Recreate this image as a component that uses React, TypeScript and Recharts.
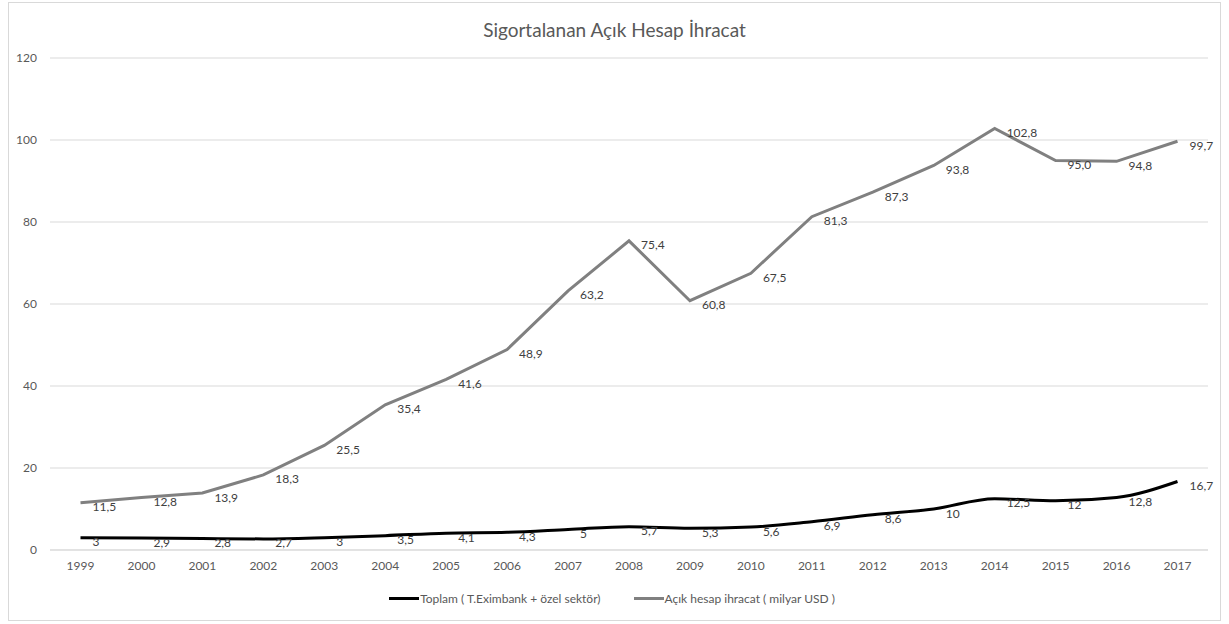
import { LineChart, Line, XAxis, YAxis, CartesianGrid, Legend, LabelList } from "recharts";

const years = [
  "1999", "2000", "2001", "2002", "2003", "2004", "2005", "2006", "2007", "2008",
  "2009", "2010", "2011", "2012", "2013", "2014", "2015", "2016", "2017",
];
const toplam = [3, 2.9, 2.8, 2.7, 3, 3.5, 4.1, 4.3, 5, 5.7, 5.3, 5.6, 6.9, 8.6, 10, 12.5, 12, 12.8, 16.7];
const acikHesap = [
  11.5, 12.8, 13.9, 18.3, 25.5, 35.4, 41.6, 48.9, 63.2, 75.4, 60.8, 67.5, 81.3, 87.3, 93.8, 102.8, 95.0, 94.8, 99.7,
];
const yTicks = [0, 20, 40, 60, 80, 100, 120];

const TOPLAM_NAME = "Toplam ( T.Eximbank + özel sektör)";
const ACIK_NAME = "Açık hesap ihracat ( milyar USD )";

const data = years.map((year, i) => ({ year, toplam: toplam[i], acik: acikHesap[i] }));

const FONT = "Lato, 'Open Sans', sans-serif";
const W = 1213;
const H = 619;

const trComma = (v: number, fixed: boolean) => (fixed ? v.toFixed(1) : String(v)).replace(".", ",");

function pointLabel(fixed: boolean) {
  return (props: any) => {
    const { x, y, value } = props;
    return (
      <text
        x={x + 12}
        y={y + 4}
        fill="#404040"
        fontSize={12}
        fontFamily={FONT}
        textAnchor="start"
        dominantBaseline="central"
      >
        {trComma(Number(value), fixed)}
      </text>
    );
  };
}

function LegendContent() {
  const items = [
    { name: TOPLAM_NAME, color: "#000000" },
    { name: ACIK_NAME, color: "#808080" },
  ];
  return (
    <div
      style={{
        height: 20,
        display: "flex",
        justifyContent: "center",
        alignItems: "center",
        gap: 33,
        fontFamily: FONT,
        fontSize: 12,
        color: "#595959",
        paddingLeft: 8,
      }}
    >
      {items.map((it) => (
        <div key={it.name} style={{ display: "flex", alignItems: "center" }}>
          <span style={{ display: "inline-block", width: 30, height: 3, background: it.color, marginRight: 1 }} />
          <span>{it.name}</span>
        </div>
      ))}
    </div>
  );
}

export default function App() {
  return (
    <div style={{ position: "absolute", left: 8, top: 2, width: W, height: H }}>
      <div
        style={{
          position: "absolute",
          inset: 0,
          border: "1px solid #d9d9d9",
          boxSizing: "border-box",
          background: "#ffffff",
        }}
      />
      <div
        style={{
          position: "absolute",
          top: 16,
          left: 0,
          width: W,
          textAlign: "center",
          fontFamily: FONT,
          fontSize: 19,
          color: "#595959",
        }}
      >
        Sigortalanan Açık Hesap İhracat
      </div>
      <div style={{ position: "absolute", left: 0, top: 0 }}>
        <LineChart width={W} height={H} data={data} margin={{ top: 56, right: 13, bottom: 13, left: 0 }}>
          <CartesianGrid vertical={false} stroke="#d9d9d9" strokeWidth={1} />
          <XAxis
            dataKey="year"
            axisLine={{ stroke: "#d9d9d9" }}
            tickLine={false}
            tickSize={0}
            tickMargin={11}
            height={38}
            interval={0}
            padding={{ left: 30.5, right: 30.5 }}
            tick={{ fill: "#595959", fontSize: 12, fontFamily: FONT }}
          />
          <YAxis
            domain={[0, 120]}
            ticks={yTicks}
            width={42}
            axisLine={false}
            tickLine={false}
            tickSize={0}
            tickMargin={13}
            tick={{ fill: "#595959", fontSize: 12, fontFamily: FONT }}
          />
          <Legend verticalAlign="bottom" content={() => <LegendContent />} />
          <Line
            name={TOPLAM_NAME}
            dataKey="toplam"
            type="monotone"
            stroke="#000000"
            strokeWidth={3}
            dot={false}
            isAnimationActive={false}
          >
            <LabelList dataKey="toplam" content={pointLabel(false)} />
          </Line>
          <Line
            name={ACIK_NAME}
            dataKey="acik"
            type="linear"
            stroke="#808080"
            strokeWidth={3}
            dot={false}
            isAnimationActive={false}
          >
            <LabelList dataKey="acik" content={pointLabel(true)} />
          </Line>
        </LineChart>
      </div>
    </div>
  );
}
